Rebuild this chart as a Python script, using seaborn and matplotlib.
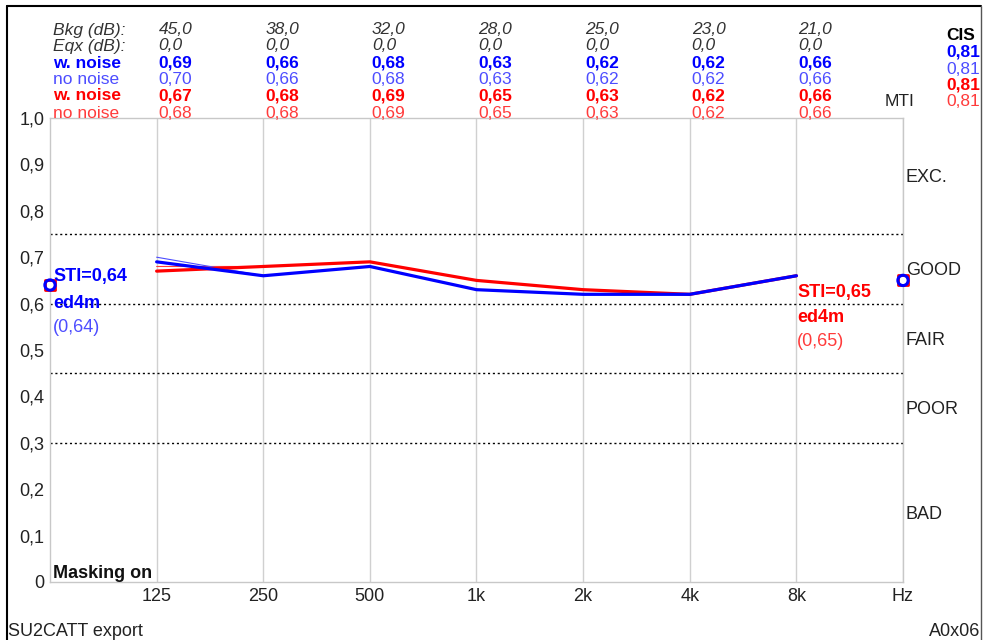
import matplotlib
matplotlib.use("Agg")
import matplotlib.pyplot as plt  # type: ignore
import seaborn as sns  # type: ignore
import numpy as np  # type: ignore
from matplotlib.lines import Line2D

freqs = ['125', '250', '500', '1k', '2k', '4k', '8k']
bkg = [45.0, 38.0, 32.0, 28.0, 25.0, 23.0, 21.0]
eqx = [0.0, 0.0, 0.0, 0.0, 0.0, 0.0, 0.0]
blue_w_noise = [0.69, 0.66, 0.68, 0.63, 0.62, 0.62, 0.66]
blue_no_noise = [0.70, 0.66, 0.68, 0.63, 0.62, 0.62, 0.66]
red_w_noise = [0.67, 0.68, 0.69, 0.65, 0.63, 0.62, 0.66]
red_no_noise = [0.68, 0.68, 0.69, 0.65, 0.63, 0.62, 0.66]
cis = [0.81, 0.81, 0.81, 0.81]
sti_blue = 0.64
sti_red = 0.65
bands = ['EXC.', 'GOOD', 'FAIR', 'POOR', 'BAD']
band_mid = [0.875, 0.675, 0.525, 0.375, 0.15]
band_edges = [0.75, 0.6, 0.45, 0.3]

BLUE, BLUE_L = '#0000ff', '#4d4dff'
RED, RED_L = '#ff0000', '#ff3b3b'
DARK = '#333333'

sns.set_theme(style='white')
plt.rcParams['font.family'] = ['Liberation Sans', 'DejaVu Sans']
plt.rcParams['font.size'] = 13

W, H = 984, 640
fig = plt.figure(figsize=(W / 100, H / 100), dpi=100)
ax = fig.add_axes([50 / W, 58 / H, 853 / W, 464 / H])

def comma(v, fmt='{:.2f}'):
    return fmt.format(v).replace('.', ',')

pos = np.arange(1, len(freqs) + 1)

# thin lines first, thick on top
sns.lineplot(x=pos, y=red_no_noise, color=RED_L, lw=0.8, ax=ax)
sns.lineplot(x=pos, y=blue_no_noise, color=BLUE_L, lw=0.8, ax=ax)
sns.lineplot(x=pos, y=red_w_noise, color=RED, lw=2.3, ax=ax)
sns.lineplot(x=pos, y=blue_w_noise, color=BLUE, lw=2.3, ax=ax)

# STI markers on the axis edges
for xm, ym in [(0, sti_blue), (len(freqs) + 1, sti_red)]:
    sns.scatterplot(x=[xm], y=[ym], marker='s', s=55, facecolor='white',
                    edgecolor=RED, linewidth=2, clip_on=False, zorder=5, ax=ax)
    sns.scatterplot(x=[xm], y=[ym], marker='o', s=55, facecolor='none',
                    edgecolor=BLUE, linewidth=2.2, clip_on=False, zorder=6, ax=ax)

for e in band_edges:
    ax.axhline(e, color='black', ls=(0, (1.5, 2)), lw=1)

ax.set_xlim(0, len(freqs) + 1)
ax.set_ylim(0, 1)
ax.set_xticks(np.arange(1, len(freqs) + 2))
ax.set_xticklabels(freqs + ['Hz'])
yt = np.round(np.arange(0, 1.01, 0.1), 1)
ax.set_yticks(yt)
ax.set_yticklabels(['0'] + [comma(v, '{:.1f}') for v in yt[1:]])
ax.tick_params(axis='x', length=0, pad=4.5, labelsize=13, labelcolor='#222222')
ax.tick_params(axis='y', length=2, width=1, color='#aaaaaa', pad=2,
               labelsize=13, labelcolor='#222222')
ax.xaxis.grid(True, color='#d0d0d0', lw=1)
ax.yaxis.grid(False)
ax.set_xlabel('')
ax.set_ylabel('')
for sp in ax.spines.values():
    sp.set_color('#c8c8c8')
    sp.set_linewidth(1)

def top_text(xpx, yc, s, data_x=None, **kw):
    base = H - (yc + 6.5)
    if data_x is None:
        fig.text(xpx / W, base / H, s, va='baseline', **kw)
    else:
        ax.annotate(s, (data_x, base), xycoords=('data', 'figure pixels'),
                    xytext=(xpx, 0), textcoords='offset pixels', va='baseline',
                    annotation_clip=False, **kw)

# header table
HS = 12.5
rows = [
    ('Bkg (dB):', [comma(v, '{:.1f}') for v in bkg], dict(style='italic', color=DARK)),
    ('Eqx (dB):', [comma(v, '{:.1f}') for v in eqx], dict(style='italic', color=DARK)),
    ('w. noise', [comma(v) for v in blue_w_noise], dict(weight='bold', color=BLUE)),
    ('no noise', [comma(v) for v in blue_no_noise], dict(color=BLUE_L)),
    ('w. noise', [comma(v) for v in red_w_noise], dict(weight='bold', color=RED)),
    ('no noise', [comma(v) for v in red_no_noise], dict(color=RED_L)),
]
row_y = [28, 44, 61, 77, 94, 111]
for (lab, vals, st), yc in zip(rows, row_y):
    top_text(53, yc, lab, fontsize=HS, **st)
    for p, v in zip(pos, vals):
        top_text(2, yc, v, data_x=p, fontsize=HS, **st)

# CIS / MTI
top_text(946, 34, 'CIS', weight='bold', color='black', fontsize=HS)
cis_styles = [dict(weight='bold', color=BLUE), dict(color=BLUE_L),
              dict(weight='bold', color=RED), dict(color=RED_L)]
for v, yc, st in zip(cis, [50, 67, 83, 100], cis_styles):
    top_text(946, yc, comma(v), fontsize=HS, **st)
top_text(885, 100, 'MTI', color='#222222', fontsize=HS)

# band names on the right
for name, m in zip(bands, band_mid):
    ax.annotate(name, (1, m), xycoords=('axes fraction', 'data'), xytext=(3, -6.5),
                textcoords='offset pixels', va='baseline', color='#222222',
                annotation_clip=False)

# STI labels
top_text(53, 274, 'STI=' + comma(sti_blue), weight='bold', color=BLUE)
top_text(53, 301, 'ed4m', weight='bold', color=BLUE)
top_text(53, 325, '(' + comma(sti_blue) + ')', color=BLUE_L)
top_text(1, 290, 'STI=' + comma(sti_red), data_x=len(freqs), weight='bold', color=RED)
top_text(1, 315, 'ed4m', data_x=len(freqs), weight='bold', color=RED)
top_text(1, 340, '(' + comma(sti_red) + ')', data_x=len(freqs), color=RED_L)

top_text(53, 571, 'Masking on', weight='bold', color='#111111')
top_text(8, 630, 'SU2CATT export', color='#222222')
fig.text(980 / W, (H - 636.5) / H, 'A0x06', ha='right', va='baseline', color='#222222')

# outer frame (open at the bottom)
fig.add_artist(Line2D([7 / W, 7 / W], [0, (H - 6) / H], color='black', lw=1.5))
fig.add_artist(Line2D([7 / W, 981 / W], [(H - 6) / H, (H - 6) / H], color='black', lw=1.5))
fig.add_artist(Line2D([981 / W, 981 / W], [0, (H - 6) / H], color='#555555', lw=1))

fig.savefig('out.png', dpi=100)
